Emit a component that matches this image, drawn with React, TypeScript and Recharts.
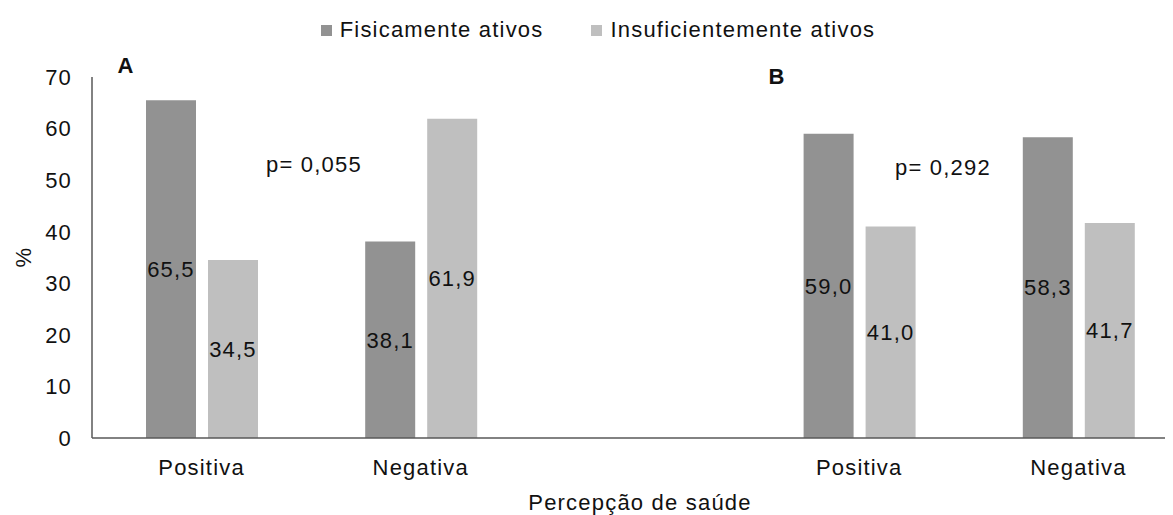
import { BarChart, Bar, XAxis, YAxis, Legend, LabelList } from 'recharts'

const CATEGORIES = ['Positiva', 'Negativa', '', 'Positiva', 'Negativa']
const FISICAMENTE_ATIVOS = [65.5, 38.1, null, 59.0, 58.3]
const INSUFICIENTEMENTE_ATIVOS = [34.5, 61.9, null, 41.0, 41.7]
const Y_TICKS = [0, 10, 20, 30, 40, 50, 60, 70]

const DATA = CATEGORIES.map((cat, i) => ({
  cat,
  ativos: FISICAMENTE_ATIVOS[i],
  insuf: INSUFICIENTEMENTE_ATIVOS[i],
}))

const TEXT = '#111111'
const AXIS = '#595959'
const DARK = '#929292'
const LIGHT = '#bfbfbf'

function fmt(v: any) {
  if (v == null) return ''
  return Number(v).toFixed(1).replace('.', ',')
}

function renderLegend(props: any) {
  const items = props.payload || []
  return (
    <div style={{ display: 'flex', justifyContent: 'center', gap: 48, fontSize: 22, color: TEXT, lineHeight: '26px' }}>
      {items.map((p: any) => (
        <div key={p.value} style={{ display: 'flex', alignItems: 'center' }}>
          <span style={{ display: 'inline-block', width: 11, height: 11, background: p.color, marginRight: 8 }} />
          <span>{p.value}</span>
        </div>
      ))}
    </div>
  )
}

export default function App() {
  return (
    <div style={{ width: 1165, height: 507, overflow: 'hidden', position: 'relative', fontFamily: '"Liberation Sans", Arial, sans-serif', letterSpacing: '1.2px' }}>
      <style>{'body{overflow:hidden}'}</style>
      <BarChart width={1180} height={507} data={DATA} margin={{ top: 69, right: 0, left: 0, bottom: 47 }} barSize={50} barGap={12}>
        <XAxis
          dataKey="cat"
          interval={0}
          tickLine={false}
          tickSize={0}
          tickMargin={21}
          height={30}
          axisLine={{ stroke: AXIS, strokeWidth: 1.5 }}
          tick={{ fill: TEXT, fontSize: 22 }}
          label={{ value: 'Percepção de saúde', position: 'bottom', offset: 26, fill: TEXT, fontSize: 22 }}
        />
        <YAxis
          domain={[0, 70]}
          ticks={Y_TICKS}
          width={84}
          tickLine={false}
          tickSize={0}
          tickMargin={20}
          axisLine={{ stroke: AXIS, strokeWidth: 1.5 }}
          tick={{ fill: TEXT, fontSize: 22 }}
        />
        <Legend
          layout="horizontal"
          verticalAlign="middle"
          align="center"
          content={renderLegend}
          wrapperStyle={{ top: 9, left: 0, width: 1180 }}
        />
        <Bar dataKey="ativos" name="Fisicamente ativos" fill={DARK} isAnimationActive={false}>
          <LabelList dataKey="ativos" position="center" formatter={fmt} fill={TEXT} fontSize={22} />
        </Bar>
        <Bar dataKey="insuf" name="Insuficientemente ativos" fill={LIGHT} isAnimationActive={false}>
          <LabelList dataKey="insuf" position="center" formatter={fmt} fill={TEXT} fontSize={22} />
        </Bar>
        <text x={118} y={65} textAnchor="middle" fontWeight="bold" fontSize={22} fill={TEXT}>A</text>
        <text x={769} y={76} textAnchor="middle" fontWeight="bold" fontSize={22} fill={TEXT}>B</text>
        <text x={306} y={164} textAnchor="middle" fontSize={22} fill={TEXT}>p= 0,055</text>
        <text x={935} y={167} textAnchor="middle" fontSize={22} fill={TEXT}>p= 0,292</text>
        <text x={15} y={249} transform="rotate(-90 15 249)" textAnchor="middle" dominantBaseline="central" fontSize={22} fill={TEXT}>%</text>
      </BarChart>
    </div>
  )
}
